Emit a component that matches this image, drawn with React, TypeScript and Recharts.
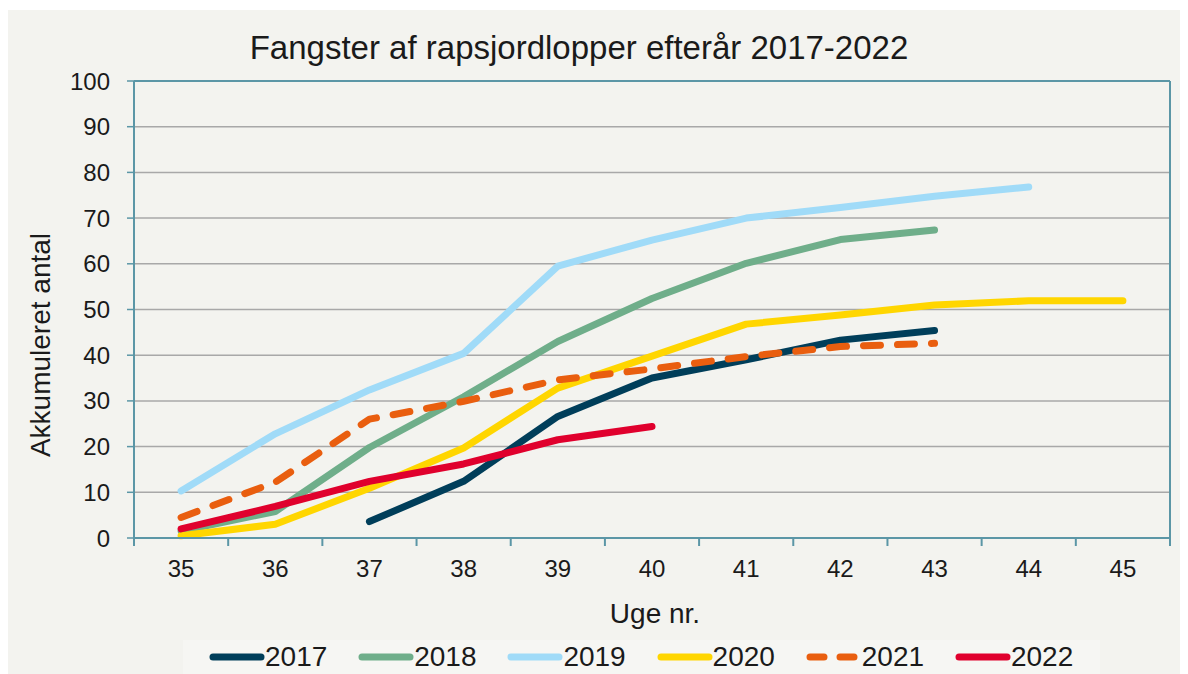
import { LineChart, Line, XAxis, YAxis, CartesianGrid, ReferenceLine } from 'recharts'

// uge nr. og akkumuleret antal pr. år
const uger = [35, 36, 37, 38, 39, 40, 41, 42, 43, 44, 45]
const y2017 = [null, null, 3.6, 12.4, 26.6, 35.0, 39.0, 43.3, 45.4, null, null]
const y2018 = [1.5, 5.8, 19.8, 30.9, 43.0, 52.4, 60.1, 65.3, 67.4, null, null]
const y2019 = [10.3, 22.8, 32.4, 40.4, 59.5, 65.2, 70.0, 72.3, 74.8, 76.8, null]
const y2020 = [0.5, 3.0, 10.9, 19.7, 32.8, 39.8, 46.8, 48.8, 51.0, 51.9, 51.9]
const y2021 = [4.5, 12.2, 26.0, 29.9, 34.6, 37.0, 39.7, 41.9, 42.6, null, null]
const y2022 = [2.0, 6.9, 12.4, 16.2, 21.5, 24.4, null, null, null, null, null]
const yTicks = [0, 10, 20, 30, 40, 50, 60, 70, 80, 90, 100]

const serier = [
  { key: '2017', vals: y2017, color: '#003e5a' },
  { key: '2018', vals: y2018, color: '#6fae8a' },
  { key: '2019', vals: y2019, color: '#a0dbf8' },
  { key: '2020', vals: y2020, color: '#ffd600' },
  { key: '2021', vals: y2021, color: '#e95e0f', dash: '17 17' },
  { key: '2022', vals: y2022, color: '#e0002d' },
]

const data = uger.map((u, i) => {
  const row: Record<string, number | null> = { uge: u }
  serier.forEach((s) => (row[s.key] = s.vals[i]))
  return row
})

// tick-streger mellem ugerne, tal på ugerne
const xTicks = [...uger.map((u) => u - 0.5), uger[uger.length - 1] + 0.5, ...uger].sort((a, b) => a - b)

const TEAL = '#5b96a6'
const FONT = '"Liberation Sans", Arial, sans-serif'

const UgeTick = (props: any) => {
  const { x, y, payload } = props
  if (Number.isInteger(payload.value)) {
    return (
      <text x={x} y={y + 39} textAnchor="middle" fontSize={24} fill="#1a1a1a" fontFamily={FONT}>
        {payload.value}
      </text>
    )
  }
  return <line x1={x} x2={x} y1={y} y2={y + 8} stroke={TEAL} strokeWidth={2} />
}

export default function App() {
  return (
    <div style={{ position: 'relative', marginTop: 2, width: 1180, height: 664, background: '#f3f3ef', fontFamily: FONT, color: '#1a1a1a' }}>
      <div style={{ position: 'absolute', left: 171, width: 800, top: 21, textAlign: 'center', fontSize: 33, lineHeight: '33px' }}>
        Fangster af rapsjordlopper efterår 2017-2022
      </div>
      <div style={{ position: 'absolute', left: 33 - 150, top: 335 - 16, width: 300, height: 32, lineHeight: '32px', textAlign: 'center', fontSize: 28, transform: 'rotate(-90deg)' }}>
        Akkumuleret antal
      </div>
      <div style={{ position: 'absolute', left: 647 - 100, width: 200, top: 589, textAlign: 'center', fontSize: 28, lineHeight: '30px' }}>
        Uge nr.
      </div>

      <LineChart width={1180} height={664} data={data} margin={{ top: 71, right: 18, left: 0, bottom: 96 }} style={{ position: 'absolute', left: 0, top: 0 }}>
        <CartesianGrid horizontal vertical={false} stroke="#a8a8a8" strokeWidth={1.5} />
        <XAxis
          dataKey="uge"
          type="number"
          domain={[34.5, 45.5]}
          ticks={xTicks}
          interval={0}
          height={40}
          tickLine={false}
          tickSize={0}
          tickMargin={0}
          axisLine={{ stroke: TEAL, strokeWidth: 2 }}
          tick={<UgeTick />}
        />
        <YAxis
          width={126}
          domain={[0, 100]}
          ticks={yTicks}
          interval={0}
          tickSize={7}
          tickMargin={17}
          axisLine={{ stroke: TEAL, strokeWidth: 2 }}
          tickLine={{ stroke: TEAL, strokeWidth: 1.5 }}
          tick={{ fontSize: 24, fill: '#1a1a1a', fontFamily: FONT }}
        />
        <ReferenceLine y={100} stroke={TEAL} strokeWidth={2} />
        <ReferenceLine x={45.5} stroke={TEAL} strokeWidth={2} />
        {serier.map((s) => (
          <Line
            key={s.key}
            dataKey={s.key}
            type="linear"
            stroke={s.color}
            strokeWidth={7}
            strokeDasharray={s.dash}
            strokeLinecap="round"
            strokeLinejoin="round"
            dot={false}
            activeDot={false}
            isAnimationActive={false}
          />
        ))}
      </LineChart>

      <div style={{ position: 'absolute', left: 175, top: 630, width: 917, height: 34, background: '#f6f6f3', display: 'flex', alignItems: 'center', paddingLeft: 26, boxSizing: 'border-box' }}>
        {serier.map((s) => (
          <div key={s.key} style={{ width: 149.2, display: 'flex', alignItems: 'center', flexShrink: 0 }}>
            <svg width={56} height={12} style={{ display: 'block' }}>
              <line x1={4} x2={52} y1={6} y2={6} stroke={s.color} strokeWidth={7} strokeLinecap="round" strokeDasharray={s.dash ? '14 16' : undefined} />
            </svg>
            <span style={{ fontSize: 28, lineHeight: '30px' }}>{s.key}</span>
          </div>
        ))}
      </div>
    </div>
  )
}
